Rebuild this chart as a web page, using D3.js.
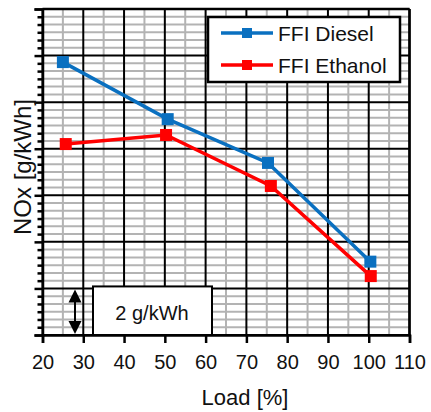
<!DOCTYPE html>
<html><head><meta charset="utf-8">
<script src="https://cdn.jsdelivr.net/npm/d3@7"></script>
<style>
html,body{margin:0;padding:0;background:#fff;}
svg text{font-family:"Liberation Sans",Arial,sans-serif;fill:#111;}
</style></head>
<body>
<svg id="chart" width="431" height="412"></svg>
<script>
// ---- data ----
const dieselLoad = [25, 50.7, 75.3, 100.4];
const dieselNOx = [11.72, 9.27, 7.39, 3.15];
const ethanolLoad = [25.7, 50.3, 76, 100.5];
const ethanolNOx = [8.2, 8.59, 6.4, 2.53];
const seriesNames = ["FFI Diesel", "FFI Ethanol"];
const xTicks = [20, 30, 40, 50, 60, 70, 80, 90, 100, 110];
const scaleLabel = "2 g/kWh";

const svg = d3.select("#chart");
const L = 42.5, R = 409.5, T = 9, B = 335;
const x = d3.scaleLinear().domain([20, 110]).range([L, R]);
const y = d3.scaleLinear().domain([0, 14]).range([B, T]);

// minor grid
const g = svg.append("g");
const xMinor = d3.range(25, 110, 10);
const yMinor = d3.range(0, 14.001, 1/3).filter(v => Math.abs(v/2 - Math.round(v/2)) > 1e-6);
g.selectAll(".vm").data(xMinor).enter().append("line")
  .attr("x1", d => x(d)).attr("x2", d => x(d)).attr("y1", T).attr("y2", B)
  .attr("stroke", "#b3b3b3").attr("stroke-width", 2);
g.selectAll(".hm").data(yMinor).enter().append("line")
  .attr("x1", L).attr("x2", R).attr("y1", d => y(d)).attr("y2", d => y(d))
  .attr("stroke", "#b3b3b3").attr("stroke-width", 2);
// major grid
const yMajor = d3.range(0, 14.001, 2);
g.selectAll(".vM").data(xTicks).enter().append("line")
  .attr("x1", d => x(d)).attr("x2", d => x(d)).attr("y1", T).attr("y2", B)
  .attr("stroke", "#000").attr("stroke-width", 2);
g.selectAll(".hM").data(yMajor).enter().append("line")
  .attr("x1", L).attr("x2", R).attr("y1", d => y(d)).attr("y2", d => y(d))
  .attr("stroke", "#000").attr("stroke-width", 2);

// axes
const xAxis = d3.axisBottom(x).tickValues(xTicks).tickSize(8).tickPadding(12).tickFormat(d3.format("d"));
const xa = svg.append("g").attr("transform", `translate(0,${B})`).call(xAxis);
xa.select(".domain").attr("stroke-width", 2.5);
xa.selectAll(".tick line").attr("stroke-width", 2.5);
xa.selectAll("text").attr("font-size", 20).style("font-family", '"Liberation Sans",Arial,sans-serif').attr("fill", "#111");

const ya = svg.append("g").attr("transform", `translate(${L},0)`)
  .call(d3.axisLeft(y).tickValues(yMajor).tickSize(8).tickFormat(""));
ya.select(".domain").attr("stroke-width", 2.5);
ya.selectAll(".tick line").attr("stroke-width", 2.5);
svg.append("g").attr("transform", `translate(${L},0)`)
  .call(d3.axisLeft(y).tickValues(yMinor).tickSize(5).tickFormat(""))
  .call(s => s.select(".domain").remove())
  .selectAll(".tick line").attr("stroke-width", 2.5);

// frame top/right
svg.append("line").attr("x1", L).attr("x2", R).attr("y1", T).attr("y2", T).attr("stroke", "#000").attr("stroke-width", 2.5);
svg.append("line").attr("x1", R).attr("x2", R).attr("y1", T).attr("y2", B).attr("stroke", "#000").attr("stroke-width", 2.5);

// titles
svg.append("text").attr("x", 245).attr("y", 405).attr("text-anchor", "middle")
  .attr("font-size", 22).text("Load [%]");
svg.append("text").attr("transform", "translate(31,167) rotate(-90)").attr("text-anchor", "middle")
  .attr("font-size", 24).text("NOx [g/kWh]");

// scale indicator box
svg.append("rect").attr("x", 93).attr("y", y(2) - 2).attr("width", 119).attr("height", B - y(2) + 2)
  .attr("fill", "#fff").attr("stroke", "#000").attr("stroke-width", 2);
svg.append("text").attr("x", 152).attr("y", 320).attr("text-anchor", "middle")
  .attr("font-size", 20).text(scaleLabel);
// double arrow
const ax = 75;
svg.append("line").attr("x1", ax).attr("x2", ax).attr("y1", y(2) + 8).attr("y2", B - 8)
  .attr("stroke", "#000").attr("stroke-width", 2);
svg.append("path").attr("d", `M${ax},${y(2)+1} L${ax-6.5},${y(2)+14} L${ax+6.5},${y(2)+14} Z`).attr("fill", "#000");
svg.append("path").attr("d", `M${ax},${B-1} L${ax-6.5},${B-14} L${ax+6.5},${B-14} Z`).attr("fill", "#000");

// series
const colors = ["#0a70c0", "#ff0000"];
const series = [
  dieselLoad.map((v, i) => [v, dieselNOx[i]]),
  ethanolLoad.map((v, i) => [v, ethanolNOx[i]])
];
const line = d3.line().x(d => x(d[0])).y(d => y(d[1]));
const ms = 12;
series.forEach((s, k) => {
  svg.append("path").datum(s).attr("d", line).attr("fill", "none")
    .attr("stroke", colors[k]).attr("stroke-width", 3.5);
  svg.selectAll(".m" + k).data(s).enter().append("rect")
    .attr("x", d => x(d[0]) - ms/2).attr("y", d => y(d[1]) - ms/2)
    .attr("width", ms).attr("height", ms).attr("fill", colors[k]);
});

// legend
svg.append("rect").attr("x", 208).attr("y", 17).attr("width", 192).attr("height", 65)
  .attr("fill", "#fff").attr("stroke", "#000").attr("stroke-width", 2.5);
seriesNames.forEach((n, k) => {
  const yy = 33 + k * 32;
  svg.append("line").attr("x1", 221).attr("x2", 273).attr("y1", yy).attr("y2", yy)
    .attr("stroke", colors[k]).attr("stroke-width", 3.5);
  svg.append("rect").attr("x", 247 - 5).attr("y", yy - 5).attr("width", 10).attr("height", 10).attr("fill", colors[k]);
  svg.append("text").attr("x", 278).attr("y", yy + 7.5).attr("font-size", 21).text(n);
});
</script>
</body></html>
